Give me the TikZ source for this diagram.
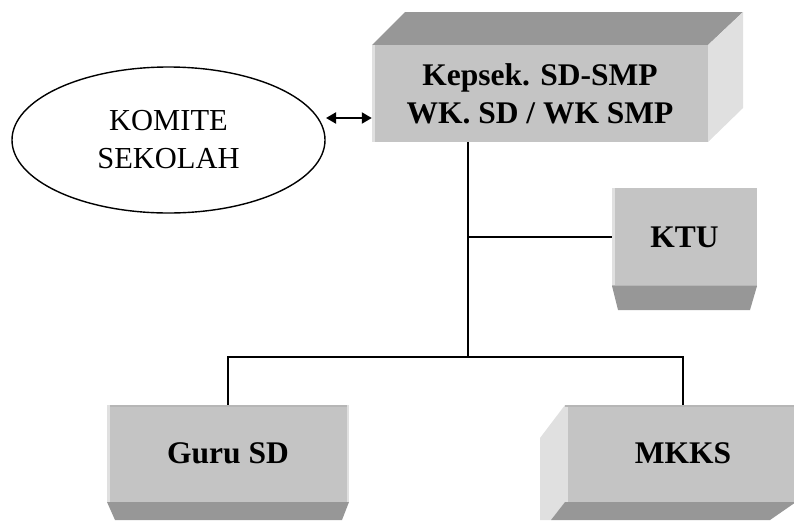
\documentclass[tikz,border=0pt]{standalone}
\usepackage{fontspec}
\setmainfont{Liberation Serif}
\usetikzlibrary{shapes.geometric,arrows.meta}

\definecolor{facefront}{HTML}{C4C4C4}
\definecolor{facedark}{HTML}{979797}
\definecolor{facelight}{HTML}{E0E0E0}
\definecolor{faceedge}{HTML}{B6B6B6}

\tikzset{
  boxfront/.style={fill=facefront, inner sep=0pt, align=center,
    font=\fontsize{31.5}{38}\selectfont\bfseries},
  darkface/.style={fill=facedark},
  lightface/.style={fill=facelight},
  link/.style={draw=black, line width=1.7pt},
  bothheads/.style={line width=2pt,
    {Triangle[length=10pt,width=11pt]}-{Triangle[length=10pt,width=11pt]}},
}

\begin{document}
\begin{tikzpicture}[x=1pt, y=-1pt]
\useasboundingbox (0,0) rectangle (794,520);

% --- head of school box, extruded up and to the right
\fill[darkface]  (372,45) -- (405,12) -- (743,12) -- (708,45) -- cycle;
\fill[lightface] (708,45) -- (743,12) -- (743,108) -- (708,142) -- cycle;
\node[boxfront, minimum width=336pt, minimum height=97pt] (kepsek) at (540,93.5)
  {Kepsek. SD-SMP\\WK. SD / WK SMP};
\fill[facelight] (372,45) rectangle (374.5,142);

% --- KTU box with bottom bevel
\fill[darkface] (612,286) -- (757,286) -- (750,310) -- (618,310) -- cycle;
\node[boxfront, minimum width=145pt, minimum height=98pt] (ktu) at (684.5,237) {KTU};
\fill[facelight] (612,188) rectangle (614.5,286);
\fill[faceedge] (612,284.5) rectangle (757,286);

% --- Guru SD box with bottom bevel
\fill[darkface] (107,502) -- (349,502) -- (342,520) -- (115,520) -- cycle;
\node[boxfront, minimum width=242pt, minimum height=97pt] (guru) at (228,453.5) {Guru SD};
\fill[faceedge] (107,405) rectangle (349,407);
\fill[facelight] (107,405) rectangle (109.5,502);
\fill[facelight] (346.5,405) rectangle (349,502);

% --- MKKS box, extruded down and to the left
\fill[lightface] (565,405) -- (540,438) -- (540,520) -- (551,520) -- (565,502) -- cycle;
\fill[darkface] (565,502) -- (796,502) -- (770,520) -- (551,520) -- cycle;
\node[boxfront, minimum width=236pt, minimum height=97pt] (mkks) at (683,453.5) {MKKS};
\fill[faceedge] (565,405) rectangle (794,407);
\fill[facelight] (565,407) rectangle (567.5,502);

% --- school committee
\node[draw, ellipse, line width=1.4pt, minimum width=313pt, minimum height=146pt,
      align=center, font=\fontsize{30.5}{38}\selectfont] (komite) at (168.5,140)
  {KOMITE\\SEKOLAH};

% --- connectors
\coordinate (arrowL) at (326,118);
\draw[bothheads] (arrowL) -- (arrowL -| kepsek.west);

\coordinate (jktu) at (468,237);
\coordinate (jbot) at (468,357);
\draw[link] (kepsek.south -| jktu) -- (jbot);
\draw[link] (jktu) -- (ktu.west);
\draw[link] (guru.north) -- (guru.north |- jbot) -- (mkks.north |- jbot) -- (mkks.north);
\end{tikzpicture}
\end{document}
